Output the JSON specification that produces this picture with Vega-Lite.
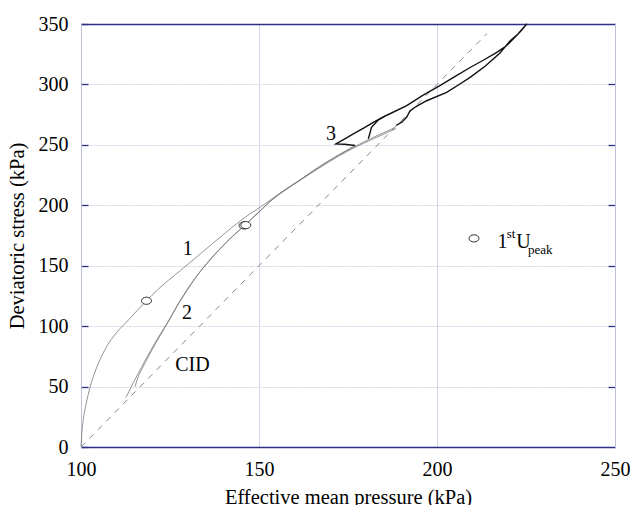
{
  "$schema": "https://vega.github.io/schema/vega-lite/v6.json",
  "width": 534,
  "height": 423,
  "autosize": "none",
  "padding": {"left": 81, "top": 24, "right": 18, "bottom": 58},
  "background": "white",
  "config": {
    "view": {"stroke": null},
    "font": "Liberation Serif",
    "axis": {"labelFont": "Liberation Serif", "titleFont": "Liberation Serif", "labelFontSize": 20, "titleFontSize": 20.5, "labelColor": "black", "titleColor": "black", "titleFontWeight": "normal"},
    "text": {"font": "Liberation Serif"}
  },
  "datasets": {
    "cid": [{"p": 100, "q": 0}, {"p": 214, "q": 342}],
    "gray": [
      {"c": "1", "o": 1, "p": 100, "q": 0}, {"c": "1", "o": 2, "p": 100.2, "q": 10}, {"c": "1", "o": 3, "p": 100.6, "q": 22}, {"c": "1", "o": 4, "p": 101.4, "q": 35}, {"c": "1", "o": 5, "p": 102.5, "q": 49}, {"c": "1", "o": 6, "p": 103.8, "q": 61}, {"c": "1", "o": 7, "p": 105.3, "q": 72}, {"c": "1", "o": 8, "p": 107.0, "q": 82}, {"c": "1", "o": 9, "p": 109.0, "q": 91}, {"c": "1", "o": 10, "p": 111.0, "q": 98}, {"c": "1", "o": 11, "p": 113.3, "q": 105}, {"c": "1", "o": 12, "p": 115.8, "q": 113}, {"c": "1", "o": 13, "p": 118.4, "q": 121}, {"c": "1", "o": 14, "p": 121.5, "q": 130}, {"c": "1", "o": 15, "p": 124.6, "q": 138}, {"c": "1", "o": 16, "p": 127.9, "q": 146}, {"c": "1", "o": 17, "p": 131.6, "q": 155}, {"c": "1", "o": 18, "p": 136, "q": 166}, {"c": "1", "o": 19, "p": 140.5, "q": 177}, {"c": "1", "o": 20, "p": 144.7, "q": 187}, {"c": "1", "o": 21, "p": 147.5, "q": 193}, {"c": "1", "o": 22, "p": 150.3, "q": 198.4}, {"c": "1", "o": 23, "p": 155.9, "q": 210}, {"c": "1", "o": 24, "p": 161.5, "q": 221}, {"c": "1", "o": 25, "p": 167, "q": 232}, {"c": "1", "o": 26, "p": 172, "q": 241}, {"c": "1", "o": 27, "p": 176.5, "q": 248}, {"c": "1", "o": 28, "p": 182, "q": 256}, {"c": "1", "o": 29, "p": 188, "q": 264},
      {"c": "2a", "o": 1, "p": 112.6, "q": 41}, {"c": "2a", "o": 2, "p": 113.5, "q": 46}, {"c": "2a", "o": 3, "p": 115, "q": 55}, {"c": "2a", "o": 4, "p": 117, "q": 66}, {"c": "2a", "o": 5, "p": 119.4, "q": 79}, {"c": "2a", "o": 6, "p": 122, "q": 92}, {"c": "2a", "o": 7, "p": 124.5, "q": 104}, {"c": "2a", "o": 8, "p": 127, "q": 117}, {"c": "2a", "o": 9, "p": 129.5, "q": 129}, {"c": "2a", "o": 10, "p": 132, "q": 139.5}, {"c": "2a", "o": 11, "p": 135, "q": 150.5}, {"c": "2a", "o": 12, "p": 138, "q": 160.5}, {"c": "2a", "o": 13, "p": 140.9, "q": 169.5}, {"c": "2a", "o": 14, "p": 143.5, "q": 177}, {"c": "2a", "o": 15, "p": 146.1, "q": 183.5}, {"c": "2a", "o": 16, "p": 148.3, "q": 190}, {"c": "2a", "o": 17, "p": 150.3, "q": 195.5}, {"c": "2a", "o": 18, "p": 153, "q": 203}, {"c": "2a", "o": 19, "p": 155.9, "q": 209.5}, {"c": "2a", "o": 20, "p": 161.5, "q": 220.5}, {"c": "2a", "o": 21, "p": 167, "q": 231}, {"c": "2a", "o": 22, "p": 172, "q": 240}, {"c": "2a", "o": 23, "p": 177, "q": 248}, {"c": "2a", "o": 24, "p": 182.5, "q": 255.5}, {"c": "2a", "o": 25, "p": 188.5, "q": 263.5},
      {"c": "2b", "o": 1, "p": 115.2, "q": 50}, {"c": "2b", "o": 2, "p": 115.8, "q": 56}, {"c": "2b", "o": 3, "p": 117.2, "q": 65}, {"c": "2b", "o": 4, "p": 119, "q": 75}, {"c": "2b", "o": 5, "p": 121, "q": 86}, {"c": "2b", "o": 6, "p": 123, "q": 96}, {"c": "2b", "o": 7, "p": 125, "q": 106}, {"c": "2b", "o": 8, "p": 127.3, "q": 118}, {"c": "2b", "o": 9, "p": 129.8, "q": 129.5}, {"c": "2b", "o": 10, "p": 132.3, "q": 140.5}, {"c": "2b", "o": 11, "p": 135.2, "q": 151.5}, {"c": "2b", "o": 12, "p": 138.2, "q": 161.5}, {"c": "2b", "o": 13, "p": 141.2, "q": 170.5}, {"c": "2b", "o": 14, "p": 143.8, "q": 177.5}, {"c": "2b", "o": 15, "p": 146.4, "q": 184.5}, {"c": "2b", "o": 16, "p": 148.6, "q": 190.5}, {"c": "2b", "o": 17, "p": 150.6, "q": 196}, {"c": "2b", "o": 18, "p": 153.3, "q": 203.5}, {"c": "2b", "o": 19, "p": 156.2, "q": 210.5}, {"c": "2b", "o": 20, "p": 161.8, "q": 221.5}, {"c": "2b", "o": 21, "p": 167.3, "q": 232.5}, {"c": "2b", "o": 22, "p": 172.3, "q": 241.5}, {"c": "2b", "o": 23, "p": 177, "q": 249.5}
    ],
    "black": [
      {"c": "3", "o": 1, "p": 177, "q": 249.5}, {"c": "3", "o": 2, "p": 174, "q": 250.5}, {"c": "3", "o": 3, "p": 171.6, "q": 250.8}, {"c": "3", "o": 4, "p": 173.5, "q": 254}, {"c": "3", "o": 5, "p": 176.5, "q": 259}, {"c": "3", "o": 6, "p": 179.5, "q": 264}, {"c": "3", "o": 7, "p": 182.1, "q": 268.6}, {"c": "3", "o": 8, "p": 185.9, "q": 274.5}, {"c": "3", "o": 9, "p": 191.5, "q": 282.5}, {"c": "3", "o": 10, "p": 196, "q": 291}, {"c": "3", "o": 11, "p": 200.8, "q": 299}, {"c": "3", "o": 12, "p": 205, "q": 306.5}, {"c": "3", "o": 13, "p": 209.3, "q": 314}, {"c": "3", "o": 14, "p": 213, "q": 320}, {"c": "3", "o": 15, "p": 216.8, "q": 326.5}, {"c": "3", "o": 16, "p": 219.5, "q": 332}, {"c": "3", "o": 17, "p": 221.4, "q": 337.5}, {"c": "3", "o": 18, "p": 223.5, "q": 344}, {"c": "3", "o": 19, "p": 225.2, "q": 350}, {"c": "3", "o": 20, "p": 222.5, "q": 341}, {"c": "3", "o": 21, "p": 220.5, "q": 336}, {"c": "3", "o": 22, "p": 217.7, "q": 326}, {"c": "3", "o": 23, "p": 213.5, "q": 315}, {"c": "3", "o": 24, "p": 209.3, "q": 305.8}, {"c": "3", "o": 25, "p": 206, "q": 299.5}, {"c": "3", "o": 26, "p": 202.7, "q": 293.4}, {"c": "3", "o": 27, "p": 197.1, "q": 286.5}, {"c": "3", "o": 28, "p": 194, "q": 281.5}, {"c": "3", "o": 29, "p": 192.4, "q": 278}, {"c": "3", "o": 30, "p": 191.5, "q": 273}, {"c": "3", "o": 31, "p": 190.2, "q": 269}, {"c": "3", "o": 32, "p": 188.5, "q": 266},
      {"c": "3w", "o": 1, "p": 180.7, "q": 255}, {"c": "3w", "o": 2, "p": 181.2, "q": 260}, {"c": "3w", "o": 3, "p": 181.6, "q": 264.5}, {"c": "3w", "o": 4, "p": 183.5, "q": 270.6}, {"c": "3w", "o": 5, "p": 185.5, "q": 274}
    ],
    "peaks": [
      {"p": 118.4, "q": 121}, {"p": 145.8, "q": 183.3}, {"p": 146.3, "q": 183.6}, {"p": 210.4, "q": 172.6}
    ],
    "labels": [
      {"t": "1", "p": 130, "q": 164}, {"t": "2", "p": 129.8, "q": 110.6}, {"t": "CID", "p": 131.3, "q": 67.7}, {"t": "3", "p": 170.2, "q": 259}, {"t": "1", "p": 218.4, "q": 170}, {"t": "U", "p": 224.3, "q": 169.7}
    ],
    "small": [
      {"t": "st", "p": 220.8, "q": 176.3}, {"t": "peak", "p": 229, "q": 162.7}
    ]
  },
  "encoding": {
    "x": {"field": "p", "type": "quantitative", "scale": {"domain": [100, 250], "nice": false, "zero": false}, "axis": null},
    "y": {"field": "q", "type": "quantitative", "scale": {"domain": [0, 350], "nice": false, "zero": false}, "axis": null}
  },
  "layer": [
    {
      "data": {"values": []},
      "mark": {"type": "rule", "strokeOpacity": 0},
      "encoding": {
        "x": {"field": "p", "type": "quantitative", "scale": {"domain": [100, 250], "nice": false, "zero": false},
          "axis": {"orient": "bottom", "values": [100, 150, 200, 250], "title": "Effective mean pressure (kPa)", "labelFont": "Liberation Serif", "titleFont": "Liberation Serif", "titleFontSize": 20.5, "labelFontSize": 20, "ticks": false, "labelPadding": 12, "titlePadding": 8, "domainColor": "#2e2e86", "domainWidth": 1.3, "grid": true, "gridColor": "#d4d4ea", "gridWidth": 1, "labelFlush": false}},
        "y": {"field": "q", "type": "quantitative", "scale": {"domain": [0, 350], "nice": false, "zero": false},
          "axis": {"orient": "left", "values": [0, 50, 100, 150, 200, 250, 300, 350], "title": "Deviatoric stress (kPa)", "labelFont": "Liberation Serif", "titleFont": "Liberation Serif", "titleFontSize": 20.5, "labelFontSize": 20, "tickSize": -7, "tickColor": "#2e2e86", "tickWidth": 1.3, "labelPadding": 20, "titlePadding": 11, "domainColor": "#c0c0dc", "grid": true, "gridColor": "#d4d4ea", "gridDash": [2, 1], "gridWidth": 1.2}}
      }
    },
    {
      "data": {"values": []},
      "mark": {"type": "rule", "strokeOpacity": 0},
      "encoding": {
        "x": {"field": "p", "type": "quantitative", "axis": {"orient": "top", "labels": false, "ticks": false, "title": null, "domainColor": "#2e2e86", "domainWidth": 1.3, "grid": false}},
        "y": {"field": "q", "type": "quantitative", "axis": {"orient": "right", "values": [50, 100, 150, 200, 250, 300], "labels": false, "title": null, "tickSize": -7, "tickColor": "#2e2e86", "tickWidth": 1.3, "domainColor": "#c0c0dc", "grid": false}}
      }
    },
    {
      "data": {"name": "cid"},
      "mark": {"type": "line", "color": "#888888", "strokeWidth": 1, "strokeDash": [6, 6]},
      "encoding": {}
    },
    {
      "data": {"name": "gray"},
      "mark": {"type": "line", "color": "#777777", "strokeWidth": 0.8, "interpolate": "monotone"},
      "encoding": {"detail": {"field": "c"}, "order": {"field": "o", "type": "quantitative"}}
    },
    {
      "data": {"name": "black"},
      "mark": {"type": "line", "color": "#111111", "strokeWidth": 1.4},
      "encoding": {"detail": {"field": "c"}, "order": {"field": "o", "type": "quantitative"}}
    },
    {
      "data": {"name": "peaks"},
      "mark": {"type": "point", "shape": "M -1 0 A 1 0.72 0 1 0 1 0 A 1 0.72 0 1 0 -1 0 Z", "size": 100, "filled": false, "fill": "white", "fillOpacity": 1, "stroke": "#333333", "strokeWidth": 1, "opacity": 1},
      "encoding": {}
    },
    {
      "data": {"name": "labels"},
      "mark": {"type": "text", "font": "Liberation Serif", "fontSize": 20, "color": "black", "align": "center", "baseline": "middle"},
      "encoding": {"text": {"field": "t"}}
    },
    {
      "data": {"name": "small"},
      "mark": {"type": "text", "font": "Liberation Serif", "fontSize": 13, "color": "black", "align": "center", "baseline": "middle"},
      "encoding": {"text": {"field": "t"}}
    }
  ]
}
